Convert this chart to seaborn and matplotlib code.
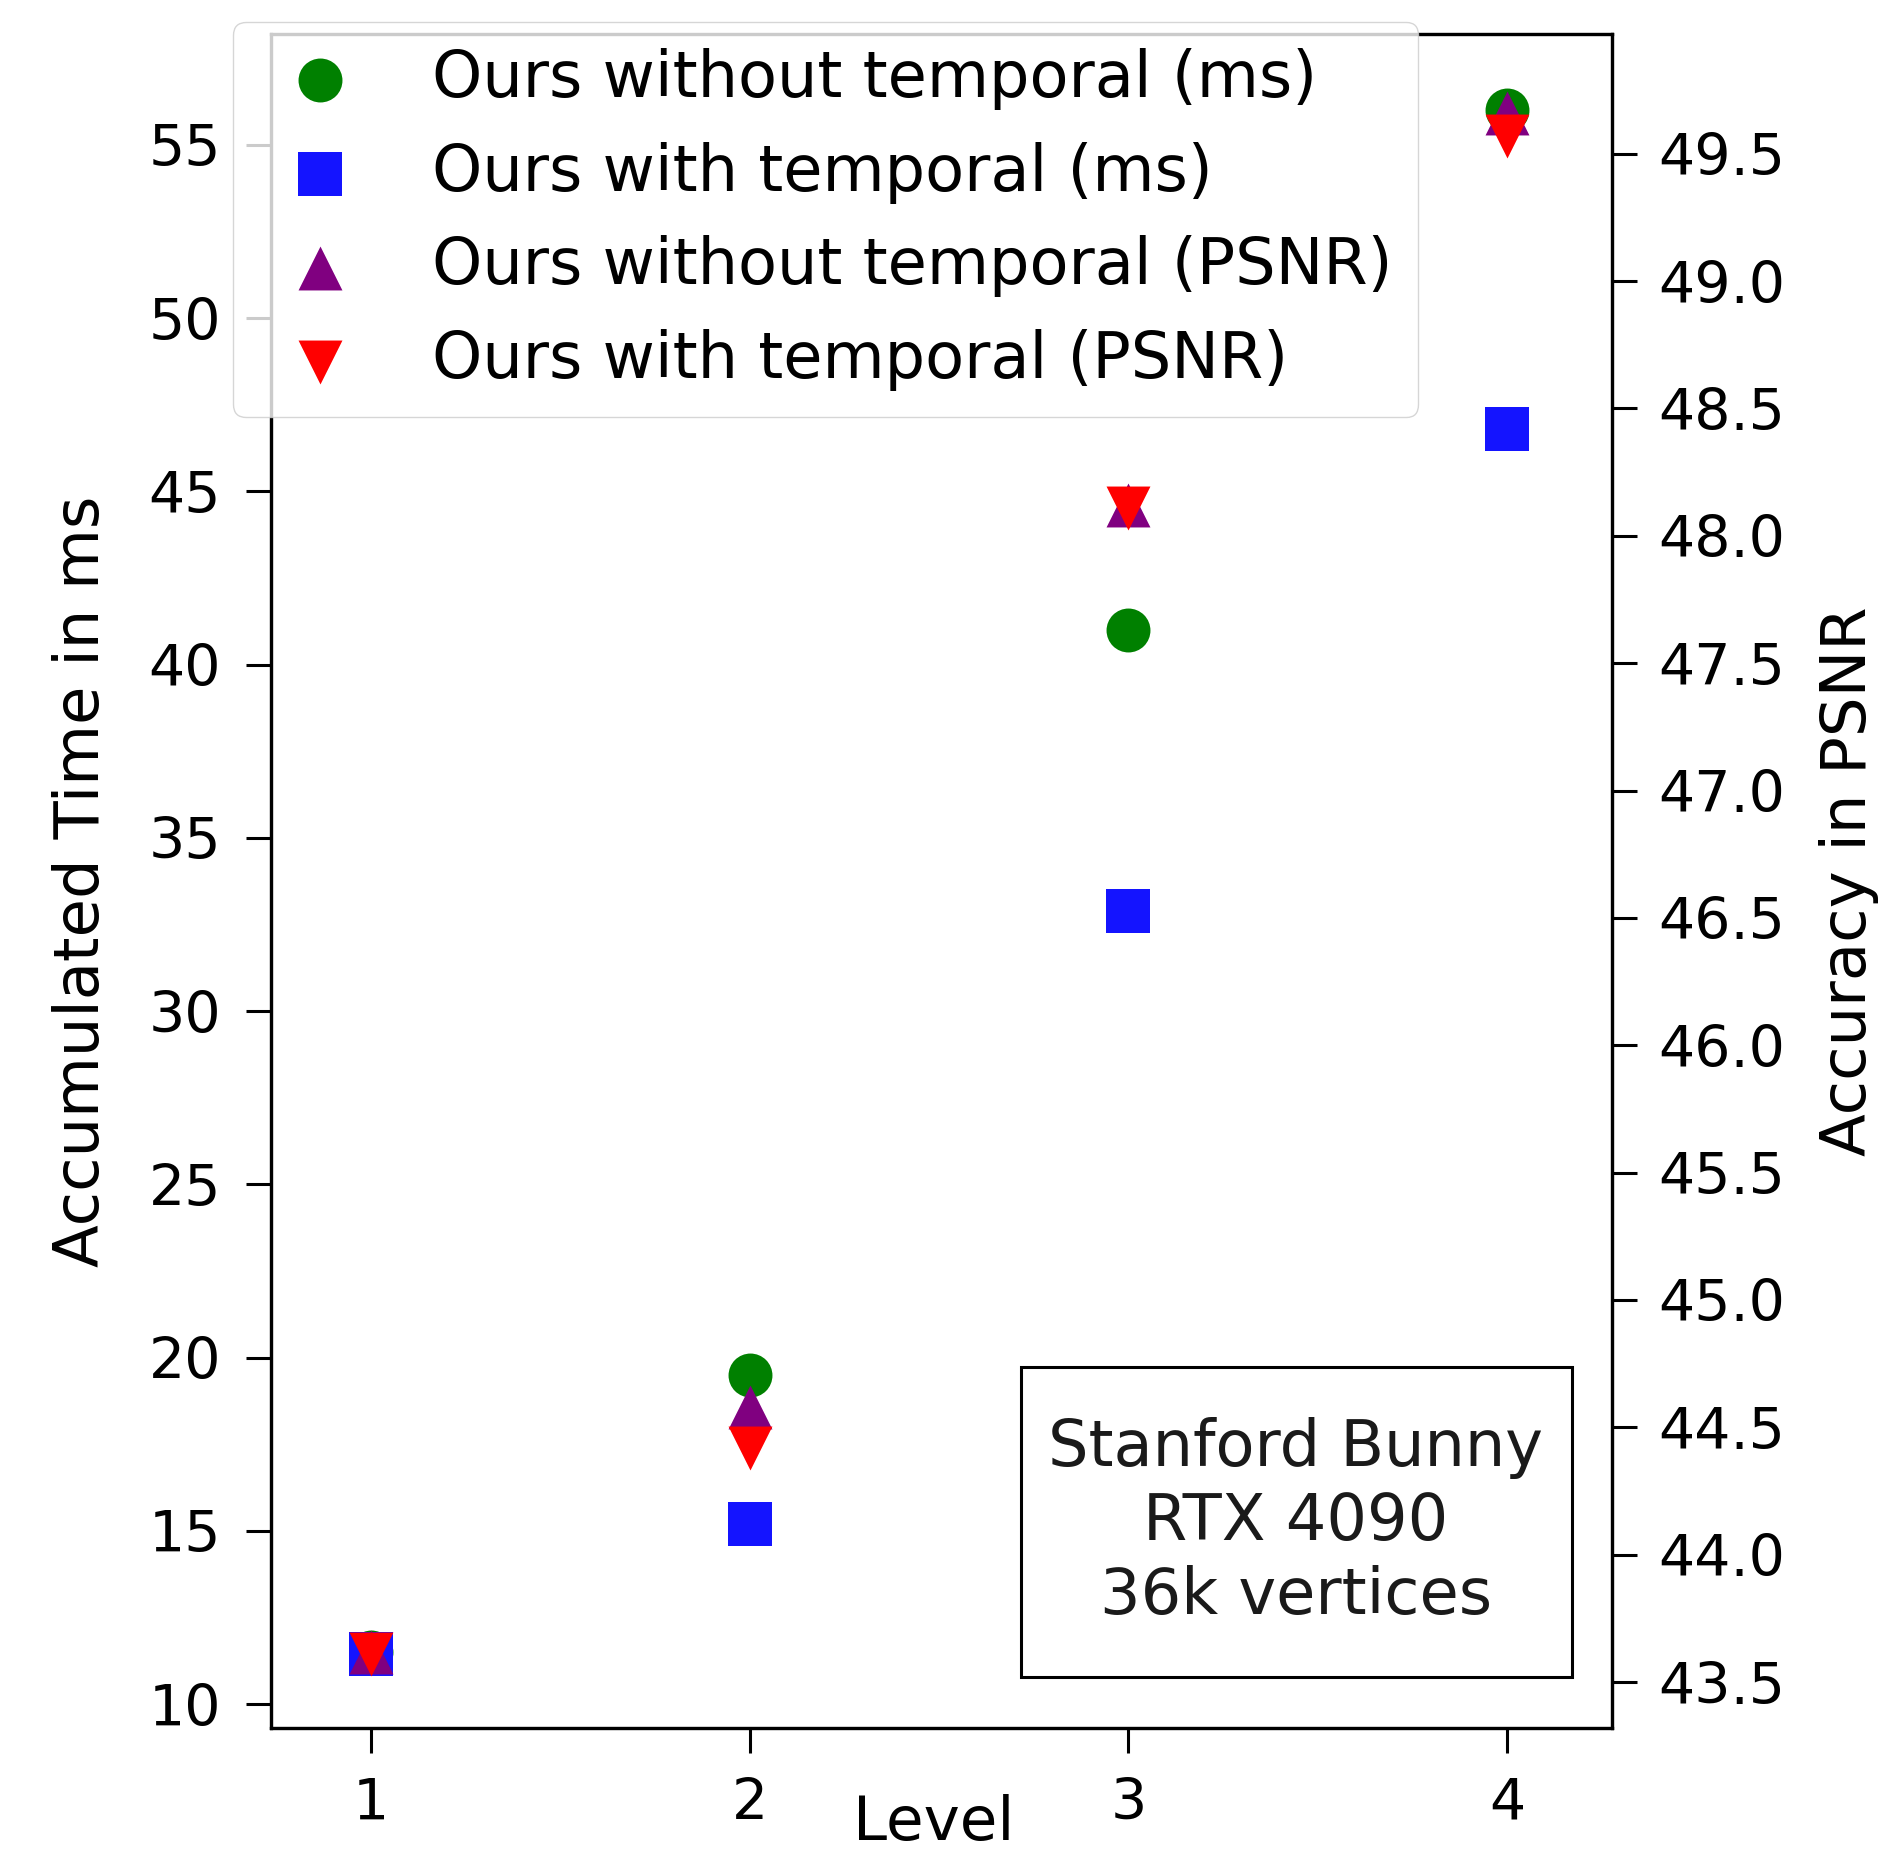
import matplotlib
matplotlib.use("Agg")
import matplotlib.pyplot as plt
from matplotlib.patches import Rectangle
import seaborn as sns
import pandas as pd

sns.set_style("ticks")
plt.rcParams['font.family'] = ['DejaVu Sans']
plt.rcParams['text.color'] = 'black'
plt.rcParams['axes.labelcolor'] = 'black'
plt.rcParams['xtick.color'] = 'black'
plt.rcParams['ytick.color'] = 'black'

# values
levels = [1, 2, 3, 4]
time_without = [11.5, 19.5, 41.0, 56.0]
time_with = [11.45, 15.2, 32.9, 46.8]
psnr_without = [43.62, 44.58, 48.12, 49.66]
psnr_with = [43.61, 44.42, 48.11, 49.57]

labels = ['Ours without temporal (ms)', 'Ours with temporal (ms)',
          'Ours without temporal (PSNR)', 'Ours with temporal (PSNR)']
time_ticks = [10, 15, 20, 25, 30, 35, 40, 45, 50, 55]
psnr_ticks = [43.5, 44.0, 44.5, 45.0, 45.5, 46.0, 46.5, 47.0, 47.5, 48.0, 48.5, 49.0, 49.5]
info_text = 'Stanford Bunny\nRTX 4090\n36k vertices'

df = pd.DataFrame({'Level': levels, 'without_ms': time_without, 'with_ms': time_with,
                   'without_psnr': psnr_without, 'with_psnr': psnr_with})

fig = plt.figure(figsize=(18.95, 18.57), dpi=100)
ax = fig.add_axes([0.143, 0.0695, 0.7077, 0.9122])
ax2 = ax.twinx()

msize = 1000
sns.scatterplot(data=df, x='Level', y='without_ms', ax=ax, color='green', marker='o',
                s=msize, linewidth=0, label=labels[0], legend=False)
sns.scatterplot(data=df, x='Level', y='with_ms', ax=ax, color='#1414ff', marker='s',
                s=msize, linewidth=0, label=labels[1], legend=False)
sns.scatterplot(data=df, x='Level', y='without_psnr', ax=ax2, color='purple', marker='^',
                s=msize, linewidth=0, label=labels[2], legend=False)
sns.scatterplot(data=df, x='Level', y='with_psnr', ax=ax2, color='red', marker='v',
                s=msize, linewidth=0, label=labels[3], legend=False)

ax.set_xlim(0.736, 4.277)
ax.set_ylim(9.31, 58.2)
ax2.set_ylim(43.32, 49.97)
ax.set_xticks(levels)
ax.set_yticks(time_ticks)
ax2.set_yticks(psnr_ticks)
ax2.set_yticklabels(['%.1f' % v for v in psnr_ticks])

for a in (ax, ax2):
    for sp in a.spines.values():
        sp.set_visible(True)
        sp.set_color('black')
        sp.set_linewidth(2.3)
ax.tick_params(axis='both', labelsize=41, length=18, width=2.2)
ax.tick_params(axis='y', pad=18)
ax.tick_params(axis='x', pad=17)
ax2.tick_params(axis='y', labelsize=41, length=18, width=2.2, pad=15)

ax.set_xlabel('Level', fontsize=44)
ax.xaxis.set_label_coords(0.494, -0.039)
ax.set_ylabel('Accumulated Time in ms', fontsize=45)
ax.yaxis.set_label_coords(-0.1186, 0.5)
ax2.set_ylabel('Accuracy in PSNR', fontsize=45)
ax2.yaxis.set_label_coords(1.1544, 0.5)

# info box
ax2.add_patch(Rectangle((0.559, 0.0301), 0.411, 0.183, transform=ax2.transAxes,
                        fill=False, edgecolor='black', linewidth=2.2, zorder=4))
ax2.text(0.764, 0.1216, info_text, transform=ax2.transAxes, ha='center', va='center',
         fontsize=46, linespacing=1.25, color='#1a1a1a', zorder=4)

h1, l1 = ax.get_legend_handles_labels()
h2, l2 = ax2.get_legend_handles_labels()
leg = ax2.legend(h1 + h2, l1 + l2, loc='upper left', bbox_to_anchor=(233 / 1895, 1 - 22 / 1857),
                 bbox_transform=fig.transFigure, borderaxespad=0, fontsize=46,
                 frameon=True, framealpha=0.8, edgecolor='0.8', fancybox=True,
                 labelspacing=0.5, borderpad=0.4, handletextpad=0.8, handlelength=1.92)
leg.set_zorder(10)

fig.savefig('out.png', dpi=100)
